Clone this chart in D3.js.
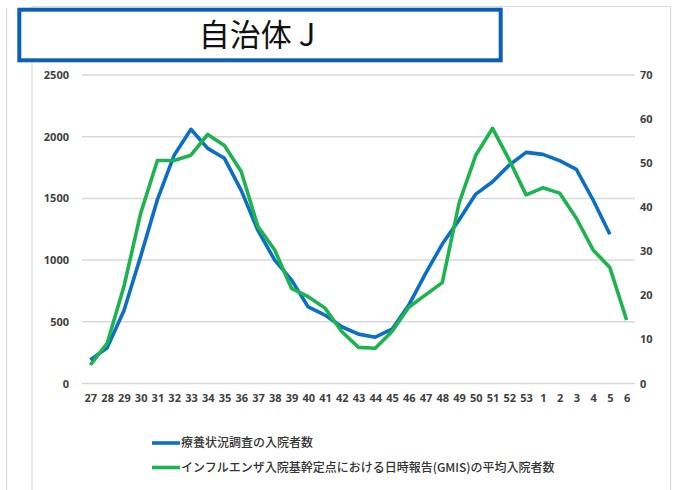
<!DOCTYPE html>
<html>
<head>
<meta charset="utf-8">
<script src="https://cdn.jsdelivr.net/npm/d3@7/dist/d3.min.js"></script>
<style>
  html, body { margin: 0; padding: 0; background: #fff; }
  svg { display: block; }
  .tick text { font-family: "Open Sans", "Liberation Sans", sans-serif; font-weight: 700; font-size: 11px; fill: #404040; }
</style>
</head>
<body>
<svg id="chart" width="674" height="490"></svg>
<script>
// Week labels (epidemiological weeks 27 → 6 of the following year)
const weeks = ["27","28","29","30","31","32","33","34","35","36","37","38","39","40","41","42","43","44",
               "45","46","47","48","49","50","51","52","53","1","2","3","4","5","6"];

// 療養状況調査の入院者数 (left axis)
const surveyInpatients = [190, 290, 590, 1030, 1490, 1850, 2060, 1905, 1825, 1565, 1240, 1000, 840, 620,
                          555, 460, 400, 375, 440, 635, 890, 1130, 1325, 1535, 1635, 1770, 1873, 1857,
                          1806, 1735, 1487, 1210, null];

// GMIS 平均入院者数 (right axis)
const gmisAverage = [4.2, 9.1, 22.0, 38.6, 50.6, 50.6, 51.8, 56.5, 54.0, 48.1, 35.6, 30.3, 21.6, 19.7,
                     17.1, 11.8, 8.2, 8.0, 11.8, 17.3, 20.1, 22.9, 40.9, 51.8, 57.9, 50.7, 42.8, 44.4,
                     43.2, 37.5, 30.3, 26.3, 14.4];

const leftTicks = [0, 500, 1000, 1500, 2000, 2500];
const rightTicks = [0, 10, 20, 30, 40, 50, 60, 70];

const titleText = "自治体 J";
const legendLabels = ["療養状況調査の入院者数", "インフルエンザ入院基幹定点における日時報告(GMIS)の平均入院者数"];

const BLUE = "#0b6fc3";
const GREEN = "#1db34e";

const svg = d3.select("#chart");

// Outer frames
const frame = svg.append("g").attr("fill", "none").attr("stroke", "#dcdcdc").attr("stroke-width", 1.2);
frame.append("line").attr("x1", 6.5).attr("x2", 6.5).attr("y1", 8).attr("y2", 490);
frame.append("polyline").attr("points", "32,490 32,6.5 670.5,6.5 670.5,490");

// Plot geometry
const plot = { left: 82, right: 635, top: 75, bottom: 383.5 };

const x = d3.scalePoint().domain(weeks).range([plot.left, plot.right]).padding(0.5);
const yL = d3.scaleLinear().domain([0, 2500]).range([plot.bottom, plot.top]);
const yR = d3.scaleLinear().domain([0, 70]).range([plot.bottom, plot.top]);

// Gridlines
svg.append("g")
  .selectAll("line")
  .data(leftTicks)
  .join("line")
  .attr("x1", plot.left).attr("x2", plot.right)
  .attr("y1", d => yL(d)).attr("y2", d => yL(d))
  .attr("stroke", "#d9d9d9").attr("stroke-width", 1.5);

// Left axis
svg.append("g")
  .attr("transform", `translate(${plot.left},0)`)
  .call(d3.axisLeft(yL).tickValues(leftTicks).tickSize(0).tickPadding(13).tickFormat(d3.format("d")))
  .call(g => g.select(".domain").remove());

// Right axis
svg.append("g")
  .attr("transform", `translate(${plot.right},0)`)
  .call(d3.axisRight(yR).tickValues(rightTicks).tickSize(0).tickPadding(5).tickFormat(d3.format("d")))
  .call(g => g.select(".domain").remove());

// Bottom axis (category labels)
svg.append("g")
  .attr("transform", `translate(0,${plot.bottom})`)
  .call(d3.axisBottom(x).tickSize(0).tickPadding(11))
  .call(g => g.select(".domain").remove());

// Series lines
const lineL = d3.line()
  .defined(d => d.v != null)
  .x(d => x(d.w)).y(d => yL(d.v));
const lineR = d3.line()
  .defined(d => d.v != null)
  .x(d => x(d.w)).y(d => yR(d.v));

svg.append("path")
  .datum(weeks.map((w, i) => ({ w, v: surveyInpatients[i] })))
  .attr("d", lineL)
  .attr("fill", "none").attr("stroke", BLUE).attr("stroke-width", 3.6)
  .attr("stroke-linejoin", "round");

svg.append("path")
  .datum(weeks.map((w, i) => ({ w, v: gmisAverage[i] })))
  .attr("d", lineR)
  .attr("fill", "none").attr("stroke", GREEN).attr("stroke-width", 3.6)
  .attr("stroke-linejoin", "round");

// Title box
svg.append("rect")
  .attr("x", 19.3).attr("y", 9.7).attr("width", 481.4).attr("height", 50.6)
  .attr("fill", "#fff").attr("stroke", "#0d5fb5").attr("stroke-width", 4);
svg.append("text")
  .attr("x", 257).attr("y", 46)
  .attr("text-anchor", "middle")
  .attr("font-family", "'Noto Sans CJK JP', sans-serif")
  .attr("font-size", 31)
  .attr("fill", "#111")
  .text(titleText);

// Legend
const legend = svg.append("g");
[{ c: BLUE, y: 443 }, { c: GREEN, y: 467.5 }].forEach((item, i) => {
  legend.append("line")
    .attr("x1", 152).attr("x2", 180).attr("y1", item.y).attr("y2", item.y)
    .attr("stroke", item.c).attr("stroke-width", 3.6);
  legend.append("text")
    .attr("x", 181).attr("y", item.y + 4.3)
    .attr("font-family", "'Noto Sans CJK JP', sans-serif")
    .attr("font-weight", 500)
    .attr("font-size", 12)
    .attr("fill", "#333")
    .text(legendLabels[i]);
});
</script>
</body>
</html>
